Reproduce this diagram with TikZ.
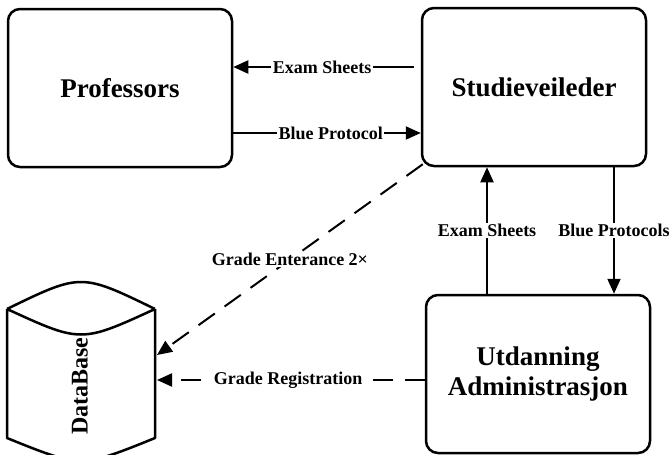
\documentclass[tikz,border=0pt]{standalone}
\usepackage{fontspec}
\setmainfont{Liberation Serif}
\usetikzlibrary{arrows.meta,calc}
\begin{document}
\begin{tikzpicture}[x=1pt,y=-1pt,
  box/.style={draw,line width=2.5pt,rounded corners=12pt,minimum width=224pt,minimum height=158pt,
    font=\fontsize{27}{30}\selectfont\bfseries,align=center,inner sep=0pt},
  conn/.style={line width=2pt,-{Triangle[length=15pt,width=13pt]}},
  dconn/.style={conn,dash pattern=on 20pt off 12pt},
  lbl/.style={fill=white,inner sep=1.5pt,font=\fontsize{18}{20}\selectfont\bfseries}]
\useasboundingbox (0,0) rectangle (670,455);
\node[box] (prof) at (120,88) {Professors};
\node[box] (stud) at (534,87) {Studieveileder};
\node[box] (utd) at (538,374) {Utdanning\\Administrasjon};
% database cylinder
\node[minimum width=148pt,minimum height=162pt,inner sep=0pt] (db) at (81,372) {};
\draw[line width=2.5pt,line join=round]
  (7,309) .. controls (81,273) .. (155,309)
  (7,309) .. controls (81,343) .. (155,309)
  (7,309) -- (7,438) .. controls (81,468) .. (155,438) -- (155,309);
\node[rotate=90,font=\fontsize{24}{26}\selectfont\bfseries,inner sep=0pt] (dbl) at (80,386) {DataBase};
\coordinate (dbA) at (157,355);
\coordinate (dbB) at (157,380);
% connectors
\coordinate (es1) at ([xshift=-7pt,yshift=20pt]stud.west);
\draw[conn] (es1) -- node[lbl,pos=0.508] (l1) {Exam Sheets} (es1 -| prof.east);
\coordinate (bp1) at ([yshift=-45pt]prof.east);
\draw[conn] (bp1) -- node[lbl,pos=0.52] (l2) {Blue Protocol} (bp1 -| stud.west);
\coordinate (es2) at ([xshift=-51pt]utd.north);
\draw[conn] (es2) -- node[lbl,pos=0.5] (l3) {Exam Sheets} (es2 |- stud.south);
\coordinate (bp2) at ([xshift=80pt]stud.south);
\draw[conn] (bp2) -- node[lbl,pos=0.5] (l4) {Blue Protocols} (bp2 |- utd.north);
\coordinate (ge) at ([xshift=2pt,yshift=3pt]stud.south west);
\draw[dconn] (ge) -- node[lbl,pos=0.5] (l5) {Grade Enterance 2×} (dbA);
\coordinate (gr) at (utd.west |- dbB);
\draw[dconn] (gr) -- node[lbl,pos=0.51] (l6) {Grade Registration} (dbB);
\end{tikzpicture}
\end{document}
